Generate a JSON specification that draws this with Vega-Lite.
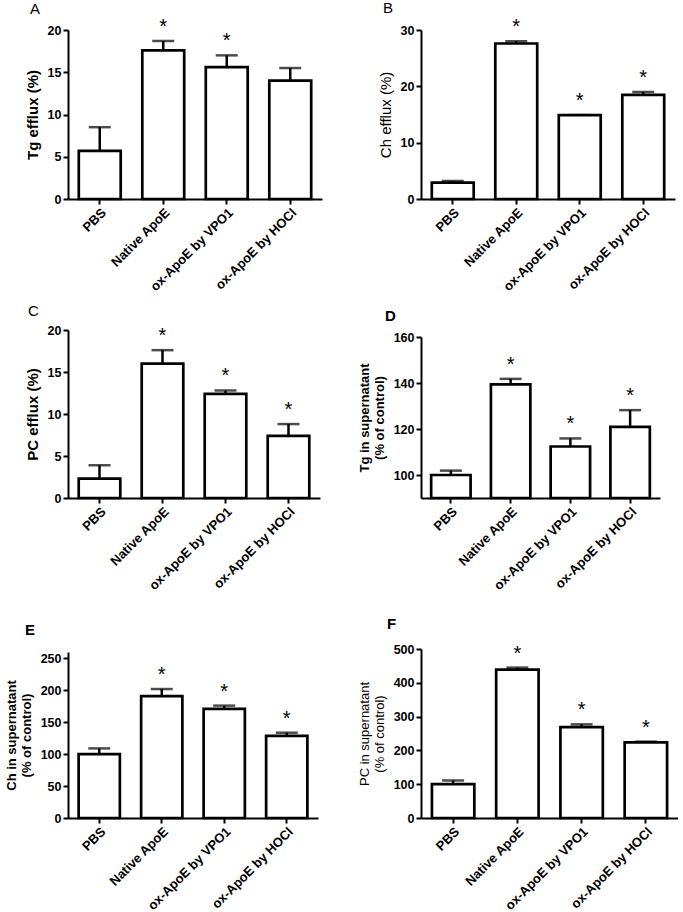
{
  "$schema": "https://vega.github.io/schema/vega-lite/v6.json",
  "background": "white",
  "padding": {"left": 5, "top": 1, "right": 0, "bottom": 0},
  "spacing": 353,
  "bounds": "flush",
  "hconcat": [
    {
      "vconcat": [
        {
          "vconcat": [
            {
              "width": 254, "height": 169,
              "title": {"text": "A", "anchor": "start", "frame": "group", "dx": -38, "offset": -12, "fontSize": 15, "fontWeight": "normal", "baseline": "alphabetic"},
              "data": {"values": [
                {"group": "PBS", "mean": 5.7, "hi": 8.5, "sig": false},
                {"group": "Native ApoE", "mean": 17.6, "hi": 18.7, "sig": true},
                {"group": "ox-ApoE by VPO1", "mean": 15.6, "hi": 17.0, "sig": true},
                {"group": "ox-ApoE by HOCl", "mean": 14.0, "hi": 15.5, "sig": false}
              ]},
              "encoding": {"x": {"field": "group", "type": "nominal", "sort": null, "scale": {"paddingInner": 0.34, "paddingOuter": 0.17}}},
              "layer": [
                {"mark": {"type": "rule", "strokeWidth": 2.5, "color": "black"}, "encoding": {"y": {"field": "mean", "type": "quantitative", "scale": {"domain": [0, 20]}, "axis": {"values": [0, 5, 10, 15, 20], "labelOverlap": false, "title": "Tg efflux (%)", "titleFontWeight": "bold", "titleFontSize": 15}}, "y2": {"field": "hi"}}},
                {"mark": {"type": "tick", "size": 22, "thickness": 2.5, "color": "black"}, "encoding": {"y": {"field": "hi", "type": "quantitative", "axis": {"values": [0, 5, 10, 15, 20], "labelOverlap": false, "title": "Tg efflux (%)", "titleFontWeight": "bold", "titleFontSize": 15}}}},
                {"mark": {"type": "bar", "fill": "white", "stroke": "black", "strokeWidth": 2.7}, "encoding": {"y": {"field": "mean", "type": "quantitative", "axis": {"values": [0, 5, 10, 15, 20], "labelOverlap": false, "title": "Tg efflux (%)", "titleFontWeight": "bold", "titleFontSize": 15}}}},
                {"transform": [{"filter": "datum.sig"}], "mark": {"type": "text", "text": "*", "fontSize": 20, "dy": -8, "baseline": "alphabetic", "color": "black"}, "encoding": {"y": {"field": "hi", "type": "quantitative", "axis": {"values": [0, 5, 10, 15, 20], "labelOverlap": false, "title": "Tg efflux (%)", "titleFontWeight": "bold", "titleFontSize": 15}}}}
              ]
            },
            {
              "width": 252, "height": 168,
              "title": {"text": "C", "anchor": "start", "frame": "group", "dx": -40, "offset": -7, "fontSize": 15, "fontWeight": "normal", "baseline": "alphabetic"},
              "data": {"values": [
                {"group": "PBS", "mean": 2.3, "hi": 3.9, "sig": false},
                {"group": "Native ApoE", "mean": 16.0, "hi": 17.6, "sig": true},
                {"group": "ox-ApoE by VPO1", "mean": 12.4, "hi": 12.8, "sig": true},
                {"group": "ox-ApoE by HOCl", "mean": 7.4, "hi": 8.8, "sig": true}
              ]},
              "encoding": {"x": {"field": "group", "type": "nominal", "sort": null, "scale": {"paddingInner": 0.34, "paddingOuter": 0.17}}},
              "layer": [
                {"mark": {"type": "rule", "strokeWidth": 2.5, "color": "black"}, "encoding": {"y": {"field": "mean", "type": "quantitative", "scale": {"domain": [0, 20]}, "axis": {"values": [0, 5, 10, 15, 20], "labelOverlap": false, "title": "PC efflux (%)", "titleFontWeight": "bold", "titleFontSize": 15}}, "y2": {"field": "hi"}}},
                {"mark": {"type": "tick", "size": 22, "thickness": 2.5, "color": "black"}, "encoding": {"y": {"field": "hi", "type": "quantitative", "axis": {"values": [0, 5, 10, 15, 20], "labelOverlap": false, "title": "PC efflux (%)", "titleFontWeight": "bold", "titleFontSize": 15}}}},
                {"mark": {"type": "bar", "fill": "white", "stroke": "black", "strokeWidth": 2.7}, "encoding": {"y": {"field": "mean", "type": "quantitative", "axis": {"values": [0, 5, 10, 15, 20], "labelOverlap": false, "title": "PC efflux (%)", "titleFontWeight": "bold", "titleFontSize": 15}}}},
                {"transform": [{"filter": "datum.sig"}], "mark": {"type": "text", "text": "*", "fontSize": 20, "dy": -8, "baseline": "alphabetic", "color": "black"}, "encoding": {"y": {"field": "hi", "type": "quantitative", "axis": {"values": [0, 5, 10, 15, 20], "labelOverlap": false, "title": "PC efflux (%)", "titleFontWeight": "bold", "titleFontSize": 15}}}}
              ]
            }
          ],
          "spacing": 131,
          "bounds": "flush"
        },
        {
          "width": 250, "height": 166,
          "title": {"text": "E", "anchor": "start", "frame": "group", "dx": -43, "offset": 2, "fontSize": 15, "fontWeight": "bold", "baseline": "alphabetic"},
          "data": {"values": [
            {"group": "PBS", "mean": 100, "hi": 109, "sig": false},
            {"group": "Native ApoE", "mean": 191, "hi": 202, "sig": true},
            {"group": "ox-ApoE by VPO1", "mean": 171, "hi": 176, "sig": true},
            {"group": "ox-ApoE by HOCl", "mean": 128.6, "hi": 133.6, "sig": true}
          ]},
          "encoding": {"x": {"field": "group", "type": "nominal", "sort": null, "scale": {"paddingInner": 0.34, "paddingOuter": 0.17}}},
          "layer": [
            {"mark": {"type": "rule", "strokeWidth": 2.5, "color": "black"}, "encoding": {"y": {"field": "mean", "type": "quantitative", "scale": {"domain": [0, 250]}, "axis": {"values": [0, 50, 100, 150, 200, 250], "labelOverlap": false, "title": ["Ch in supernatant", "(% of control)"], "titleFontWeight": "bold"}}, "y2": {"field": "hi"}}},
            {"mark": {"type": "tick", "size": 22, "thickness": 2.5, "color": "black"}, "encoding": {"y": {"field": "hi", "type": "quantitative", "axis": {"values": [0, 50, 100, 150, 200, 250], "labelOverlap": false, "title": ["Ch in supernatant", "(% of control)"], "titleFontWeight": "bold"}}}},
            {"mark": {"type": "bar", "fill": "white", "stroke": "black", "strokeWidth": 2.7}, "encoding": {"y": {"field": "mean", "type": "quantitative", "axis": {"values": [0, 50, 100, 150, 200, 250], "labelOverlap": false, "title": ["Ch in supernatant", "(% of control)"], "titleFontWeight": "bold"}}}},
            {"transform": [{"filter": "datum.sig"}], "mark": {"type": "text", "text": "*", "fontSize": 20, "dy": -8, "baseline": "alphabetic", "color": "black"}, "encoding": {"y": {"field": "hi", "type": "quantitative", "axis": {"values": [0, 50, 100, 150, 200, 250], "labelOverlap": false, "title": ["Ch in supernatant", "(% of control)"], "titleFontWeight": "bold"}}}}
          ]
        }
      ],
      "spacing": 622,
      "bounds": "flush"
    },
    {
      "vconcat": [
        {
          "vconcat": [
            {
              "width": 254, "height": 169,
              "title": {"text": "B", "anchor": "start", "frame": "group", "dx": -38, "offset": -11, "fontSize": 15, "fontWeight": "normal", "baseline": "alphabetic"},
              "data": {"values": [
                {"group": "PBS", "mean": 2.9, "hi": 3.2, "sig": false},
                {"group": "Native ApoE", "mean": 27.6, "hi": 28.0, "sig": true},
                {"group": "ox-ApoE by VPO1", "mean": 14.9, "hi": 14.9, "sig": true},
                {"group": "ox-ApoE by HOCl", "mean": 18.5, "hi": 19.0, "sig": true}
              ]},
              "encoding": {"x": {"field": "group", "type": "nominal", "sort": null, "scale": {"paddingInner": 0.34, "paddingOuter": 0.17}}},
              "layer": [
                {"mark": {"type": "rule", "strokeWidth": 2.5, "color": "black"}, "encoding": {"y": {"field": "mean", "type": "quantitative", "scale": {"domain": [0, 30]}, "axis": {"values": [0, 10, 20, 30], "labelOverlap": false, "title": "Ch efflux (%)", "titleFontWeight": "normal", "titleFontSize": 15}}, "y2": {"field": "hi"}}},
                {"mark": {"type": "tick", "size": 22, "thickness": 2.5, "color": "black"}, "encoding": {"y": {"field": "hi", "type": "quantitative", "axis": {"values": [0, 10, 20, 30], "labelOverlap": false, "title": "Ch efflux (%)", "titleFontWeight": "normal", "titleFontSize": 15}}}},
                {"mark": {"type": "bar", "fill": "white", "stroke": "black", "strokeWidth": 2.7}, "encoding": {"y": {"field": "mean", "type": "quantitative", "axis": {"values": [0, 10, 20, 30], "labelOverlap": false, "title": "Ch efflux (%)", "titleFontWeight": "normal", "titleFontSize": 15}}}},
                {"transform": [{"filter": "datum.sig"}], "mark": {"type": "text", "text": "*", "fontSize": 20, "dy": -8, "baseline": "alphabetic", "color": "black"}, "encoding": {"y": {"field": "hi", "type": "quantitative", "axis": {"values": [0, 10, 20, 30], "labelOverlap": false, "title": "Ch efflux (%)", "titleFontWeight": "normal", "titleFontSize": 15}}}}
              ]
            },
            {
              "width": 239, "height": 161,
              "title": {"text": "D", "anchor": "start", "frame": "group", "dx": -36, "offset": -5, "fontSize": 15, "fontWeight": "bold", "baseline": "alphabetic"},
              "data": {"values": [
                {"group": "PBS", "mean": 100, "hi": 101.9, "sig": false},
                {"group": "Native ApoE", "mean": 139.4, "hi": 141.8, "sig": true},
                {"group": "ox-ApoE by VPO1", "mean": 112.4, "hi": 115.9, "sig": true},
                {"group": "ox-ApoE by HOCl", "mean": 120.9, "hi": 128.2, "sig": true}
              ]},
              "encoding": {"x": {"field": "group", "type": "nominal", "sort": null, "scale": {"paddingInner": 0.34, "paddingOuter": 0.17}}},
              "layer": [
                {"mark": {"type": "rule", "strokeWidth": 2.5, "color": "black"}, "encoding": {"y": {"field": "mean", "type": "quantitative", "scale": {"domain": [90, 160], "zero": false}, "axis": {"values": [100, 120, 140, 160], "labelOverlap": false, "title": ["Tg in supernatant", "(% of control)"], "titleFontWeight": "bold"}}, "y2": {"field": "hi"}}},
                {"mark": {"type": "tick", "size": 22, "thickness": 2.5, "color": "black"}, "encoding": {"y": {"field": "hi", "type": "quantitative", "axis": {"values": [100, 120, 140, 160], "labelOverlap": false, "title": ["Tg in supernatant", "(% of control)"], "titleFontWeight": "bold"}}}},
                {"mark": {"type": "bar", "fill": "white", "stroke": "black", "strokeWidth": 2.7}, "encoding": {"y": {"field": "mean", "type": "quantitative", "axis": {"values": [100, 120, 140, 160], "labelOverlap": false, "title": ["Tg in supernatant", "(% of control)"], "titleFontWeight": "bold"}}, "y2": {"datum": 90}}},
                {"transform": [{"filter": "datum.sig"}], "mark": {"type": "text", "text": "*", "fontSize": 20, "dy": -8, "baseline": "alphabetic", "color": "black"}, "encoding": {"y": {"field": "hi", "type": "quantitative", "axis": {"values": [100, 120, 140, 160], "labelOverlap": false, "title": ["Tg in supernatant", "(% of control)"], "titleFontWeight": "bold"}}}}
              ]
            }
          ],
          "spacing": 138,
          "bounds": "flush"
        },
        {
          "width": 257, "height": 169,
          "title": {"text": "F", "anchor": "start", "frame": "group", "dx": -34, "offset": -1, "fontSize": 15, "fontWeight": "bold", "baseline": "alphabetic"},
          "data": {"values": [
            {"group": "PBS", "mean": 100, "hi": 111, "sig": false},
            {"group": "Native ApoE", "mean": 439, "hi": 445, "sig": true},
            {"group": "ox-ApoE by VPO1", "mean": 269, "hi": 277, "sig": true},
            {"group": "ox-ApoE by HOCl", "mean": 224, "hi": 226, "sig": true}
          ]},
          "encoding": {"x": {"field": "group", "type": "nominal", "sort": null, "scale": {"paddingInner": 0.34, "paddingOuter": 0.17}}},
          "layer": [
            {"mark": {"type": "rule", "strokeWidth": 2.5, "color": "black"}, "encoding": {"y": {"field": "mean", "type": "quantitative", "scale": {"domain": [0, 500]}, "axis": {"values": [0, 100, 200, 300, 400, 500], "labelOverlap": false, "title": ["PC in supernatant", "(% of control)"], "titleFontWeight": "normal"}}, "y2": {"field": "hi"}}},
            {"mark": {"type": "tick", "size": 22, "thickness": 2.5, "color": "black"}, "encoding": {"y": {"field": "hi", "type": "quantitative", "axis": {"values": [0, 100, 200, 300, 400, 500], "labelOverlap": false, "title": ["PC in supernatant", "(% of control)"], "titleFontWeight": "normal"}}}},
            {"mark": {"type": "bar", "fill": "white", "stroke": "black", "strokeWidth": 2.7}, "encoding": {"y": {"field": "mean", "type": "quantitative", "axis": {"values": [0, 100, 200, 300, 400, 500], "labelOverlap": false, "title": ["PC in supernatant", "(% of control)"], "titleFontWeight": "normal"}}}},
            {"transform": [{"filter": "datum.sig"}], "mark": {"type": "text", "text": "*", "fontSize": 20, "dy": -8, "baseline": "alphabetic", "color": "black"}, "encoding": {"y": {"field": "hi", "type": "quantitative", "axis": {"values": [0, 100, 200, 300, 400, 500], "labelOverlap": false, "title": ["PC in supernatant", "(% of control)"], "titleFontWeight": "normal"}}}}
          ]
        }
      ],
      "spacing": 619,
      "bounds": "flush"
    }
  ],
  "config": {
    "view": {"stroke": null},
    "font": "Liberation Sans",
    "title": {"font": "Liberation Sans", "color": "black"},
    "text": {"font": "Liberation Sans"},
    "axis": {
      "domainColor": "black", "domainWidth": 2, "tickColor": "black", "tickWidth": 2, "tickSize": 5,
      "labelColor": "black", "labelFont": "Liberation Sans", "labelFontWeight": "bold", "labelFontSize": 12.5,
      "titleColor": "black", "titleFont": "Liberation Sans", "titleFontSize": 13, "titlePadding": 7, "titleLineHeight": 15,
      "grid": false, "labelPadding": 2, "labelOverlap": false
    },
    "axisX": {"labelAngle": -45, "labelAlign": "right", "labelBaseline": "top", "title": null, "labelPadding": 2, "labelFontSize": 13}
  }
}
